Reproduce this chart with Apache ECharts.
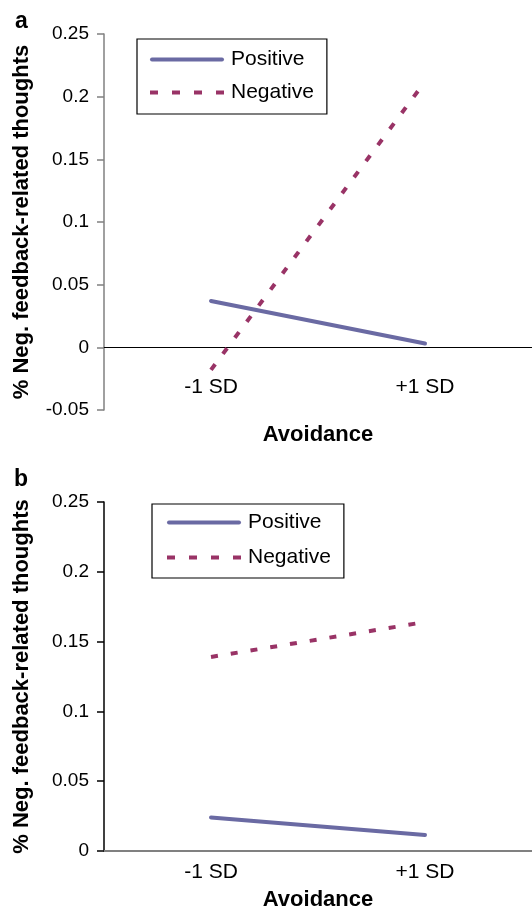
<!DOCTYPE html>
<html>
<head>
<meta charset="utf-8">
<script src="https://cdn.jsdelivr.net/npm/echarts@6/dist/echarts.min.js"></script>
<style>
html,body{margin:0;padding:0;background:#fff;}
#chart{width:532px;height:912px;}
</style>
</head>
<body>
<div id="chart"></div>
<script>
// ---- data ----
var categories = ['-1 SD', '+1 SD'];
var panelA_positive = [0.037, 0.003];
var panelA_negative = [-0.018, 0.212];
var panelB_positive = [0.024, 0.0115];
var panelB_negative = [0.139, 0.164];
var seriesNames = ['Positive', 'Negative'];
var panelLabels = ['a', 'b'];
var xAxisTitle = 'Avoidance';
var yAxisTitle = '% Neg. feedback-related thoughts';
var yRangeA = [-0.05, 0.25];
var yRangeB = [0, 0.25];

var FONT = 'Liberation Sans, Arial, Helvetica, sans-serif';
var posColor = '#6a6aa3';
var negColor = '#993366';

var gridAHeight = 376;
var gridBHeight = 351;

function fmt(v){ return String(+v.toFixed(2)); }

var chart = echarts.init(document.getElementById('chart'), null, {renderer:'canvas'});

function yAxisCfg(gridIndex, range, lineColor){
  return {
    type:'value', gridIndex:gridIndex, min:range[0], max:range[1], interval:0.05,
    name: yAxisTitle, nameLocation:'middle', nameGap:71,
    nameTextStyle:{fontFamily:FONT, fontSize:22, fontWeight:'bold', color:'#000'},
    axisLine:{show:true, lineStyle:{color:lineColor, width:1.5}},
    axisTick:{show:true, inside:false, length:7, lineStyle:{color:lineColor, width:1.5}},
    axisLabel:{fontFamily:FONT, fontSize:19, color:'#000', margin:15, formatter:fmt},
    splitLine:{show:false}
  };
}

// x axis is placed where y = 0 via offset (grid-relative)
function xAxisCfg(gridIndex, range, gridH, lineColor, lineWidth, labelMargin, nameGap){
  var zeroOffset = -gridH * (0 - range[0]) / (range[1] - range[0]);
  return {
    type:'category', gridIndex:gridIndex, data:categories, boundaryGap:true,
    position:'bottom', offset: zeroOffset,
    axisLine:{show:true, onZero:false, lineStyle:{color:lineColor, width:lineWidth}},
    axisTick:{show:false},
    axisLabel:{fontFamily:FONT, fontSize:21, color:'#000', margin:labelMargin},
    name: xAxisTitle, nameLocation:'middle', nameGap:nameGap,
    nameTextStyle:{fontFamily:FONT, fontSize:22, fontWeight:'bold', color:'#000'}
  };
}

var iconSolid = 'path://M2,0 L72,0 A2,2 0 0 1 72,4 L2,4 A2,2 0 0 1 2,0 Z';
var iconDashed = 'path://M0,0h8v4h-8z M22,0h8v4h-8z M44,0h8v4h-8z M66,0h8v4h-8z';

function legendCfg(left, top, padding, gap){
  return {
    data: [{name:seriesNames[0], icon:iconSolid}, {name:seriesNames[1], icon:iconDashed}],
    orient:'vertical', left:left, top:top,
    padding:padding, itemGap:gap, itemWidth:74, itemHeight:4,
    borderColor:'#000', borderWidth:1.2, backgroundColor:'#fff',
    selectedMode:false,
    textStyle:{fontFamily:FONT, fontSize:21, color:'#000', padding:[0,0,0,2], lineHeight:21}
  };
}

function lineSeries(name, data, xi, yi, color, dashed){
  return {
    type:'line', name:name, xAxisIndex:xi, yAxisIndex:yi, data:data,
    symbol:'none', smooth:false, silent:true, animation:false,
    lineStyle:{color:color, width:4, type: dashed ? [7,13] : 'solid', cap: dashed ? 'butt' : 'round'},
    itemStyle:{color:color}
  };
}

var option = {
  animation:false,
  backgroundColor:'#fff',
  title:[
    {text:panelLabels[0], left:10, top:5, textStyle:{fontFamily:FONT, fontSize:23, fontWeight:'bold', color:'#000'}},
    {text:panelLabels[1], left:9, top:463, textStyle:{fontFamily:FONT, fontSize:23, fontWeight:'bold', color:'#000'}}
  ],
  grid:[
    {left:104, right:0, top:34, height:gridAHeight, containLabel:false},
    {left:104, right:0, top:502, height:gridBHeight, containLabel:false}
  ],
  xAxis:[
    xAxisCfg(0, yRangeA, gridAHeight, '#000', 1.2, 29, 77),
    xAxisCfg(1, yRangeB, gridBHeight, '#808080', 2, 11, 38)
  ],
  yAxis:[
    yAxisCfg(0, yRangeA, '#808080'),
    yAxisCfg(1, yRangeB, '#000')
  ],
  legend:[
    legendCfg(137, 39, [10,13,11,13], 12),
    legendCfg(152, 504, [8,13,10,15], 14)
  ],
  series:[
    lineSeries(seriesNames[0], panelA_positive, 0, 0, posColor, false),
    lineSeries(seriesNames[1], panelA_negative, 0, 0, negColor, true),
    lineSeries(seriesNames[0], panelB_positive, 1, 1, posColor, false),
    lineSeries(seriesNames[1], panelB_negative, 1, 1, negColor, true)
  ]
};
chart.setOption(option);
</script>
</body>
</html>
